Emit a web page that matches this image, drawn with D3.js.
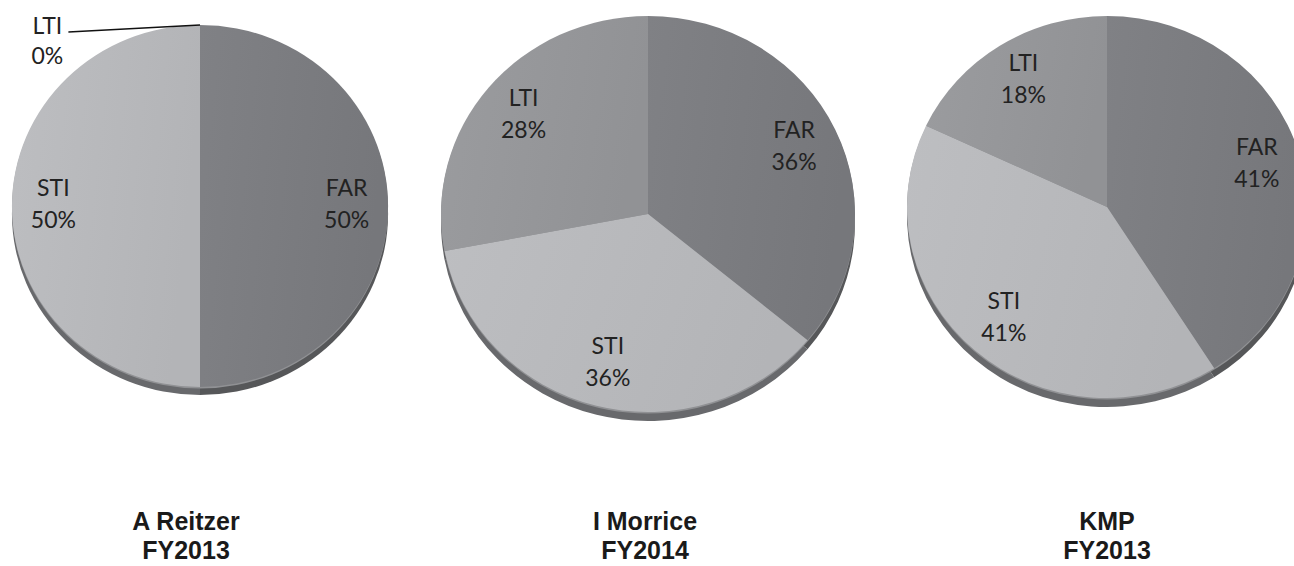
<!DOCTYPE html>
<html>
<head>
<meta charset="utf-8">
<script src="https://cdn.jsdelivr.net/npm/d3@7"></script>
<style>
  body { margin: 0; background: #fff; }
  svg { display: block; }
</style>
</head>
<body>
<svg id="svg" width="1294" height="566"></svg>
<script>
// slices, clockwise from 12 o'clock
const categories = ['FAR', 'STI', 'LTI'];
const reitzer = [50, 50, 0];
const morrice = [36, 36, 28];
const kmp = [41, 41, 18];
const titles = [['A Reitzer', 'FY2013'], ['I Morrice', 'FY2014'], ['KMP', 'FY2013']];

const charts = [
    { values: reitzer, cx: 200, cy: 206, rx: 188, ry: 181, depth: 8, tx: 186 },
    { values: morrice, cx: 648, cy: 214, rx: 207, ry: 198, depth: 9, tx: 645 },
    { values: kmp, cx: 1107, cy: 207, rx: 200, ry: 191, depth: 9, tx: 1107 }
];

const topColor = { FAR: ['#808185', '#76777b'], STI: ['#bdbec1', '#b3b4b7'], LTI: ['#9b9c9f', '#919295'] };
const sideColor = { FAR: '#565759', STI: '#68696c', LTI: '#606164' };

const svg = d3.select('#svg');
const defs = svg.append('defs');
categories.forEach(c => {
    const g = defs.append('linearGradient').attr('id', 'g_' + c)
        .attr('x1', '0%').attr('y1', '0%').attr('x2', '100%').attr('y2', '20%');
    g.append('stop').attr('offset', '0%').attr('stop-color', topColor[c][0]);
    g.append('stop').attr('offset', '100%').attr('stop-color', topColor[c][1]);
});

const pie = d3.pie().sort(null).value(d => d.v);

charts.forEach((ch, i) => {
    const data = pie(categories.map((c, j) => ({ c: c, v: ch.values[j] })));
    const arc = d3.arc().innerRadius(0).outerRadius(ch.rx);
    const k = ch.ry / ch.rx;

    // side (depth) of the 3d pie
    svg.append('g')
        .attr('transform', `translate(${ch.cx},${ch.cy + ch.depth}) scale(1,${k})`)
        .selectAll('path')
        .data(data.filter(d => d.value > 0))
        .join('path')
        .attr('d', arc)
        .attr('fill', d => sideColor[d.data.c]);

    // thin rim between top and side
    svg.append('ellipse')
        .attr('cx', ch.cx).attr('cy', ch.cy + 1.5)
        .attr('rx', ch.rx).attr('ry', ch.ry)
        .attr('fill', '#909194');

    // top face
    svg.append('g')
        .attr('transform', `translate(${ch.cx},${ch.cy}) scale(1,${k})`)
        .selectAll('path')
        .data(data.filter(d => d.value > 0))
        .join('path')
        .attr('d', arc)
        .attr('fill', d => `url(#g_${d.data.c})`);

    // labels
    const lab = svg.append('g')
        .attr('font-family', 'Lato, "Noto Sans", sans-serif')
        .attr('font-size', 23)
        .attr('fill', '#222')
        .attr('text-anchor', 'middle');

    data.forEach(d => {
        const mid = (d.startAngle + d.endAngle) / 2;
        if (d.value > 0) {
            const x = ch.cx + 0.78 * ch.rx * Math.sin(mid);
            const y = ch.cy - 0.78 * ch.ry * Math.cos(mid);
            lab.append('text').attr('x', x).attr('y', y - 10).text(d.data.c);
            lab.append('text').attr('x', x).attr('y', y + 22).text(d.value + '%');
        } else {
            // zero slice: label outside with a leader line
            const px = ch.cx + ch.rx * Math.sin(d.startAngle);
            const py = ch.cy - ch.ry * Math.cos(d.startAngle);
            const ex = ch.cx - 0.70 * ch.rx;
            const ey = py + 7;
            svg.append('line')
                .attr('x1', px).attr('y1', py).attr('x2', ex).attr('y2', ey)
                .attr('stroke', '#111').attr('stroke-width', 1.3);
            lab.append('text').attr('x', ex - 21).attr('y', ey + 2).text(d.data.c);
            lab.append('text').attr('x', ex - 21).attr('y', ey + 32).text(d.value + '%');
        }
    });

    // chart title
    const t = svg.append('text')
        .attr('x', ch.tx).attr('y', 530)
        .attr('text-anchor', 'middle')
        .attr('font-family', '"Liberation Sans", Arial, sans-serif')
        .attr('font-weight', 'bold')
        .attr('font-size', 25)
        .attr('fill', '#1a1a1a');
    t.append('tspan').attr('x', ch.tx).text(titles[i][0]);
    t.append('tspan').attr('x', ch.tx).attr('dy', 29).text(titles[i][1]);
});
</script>
</body>
</html>
